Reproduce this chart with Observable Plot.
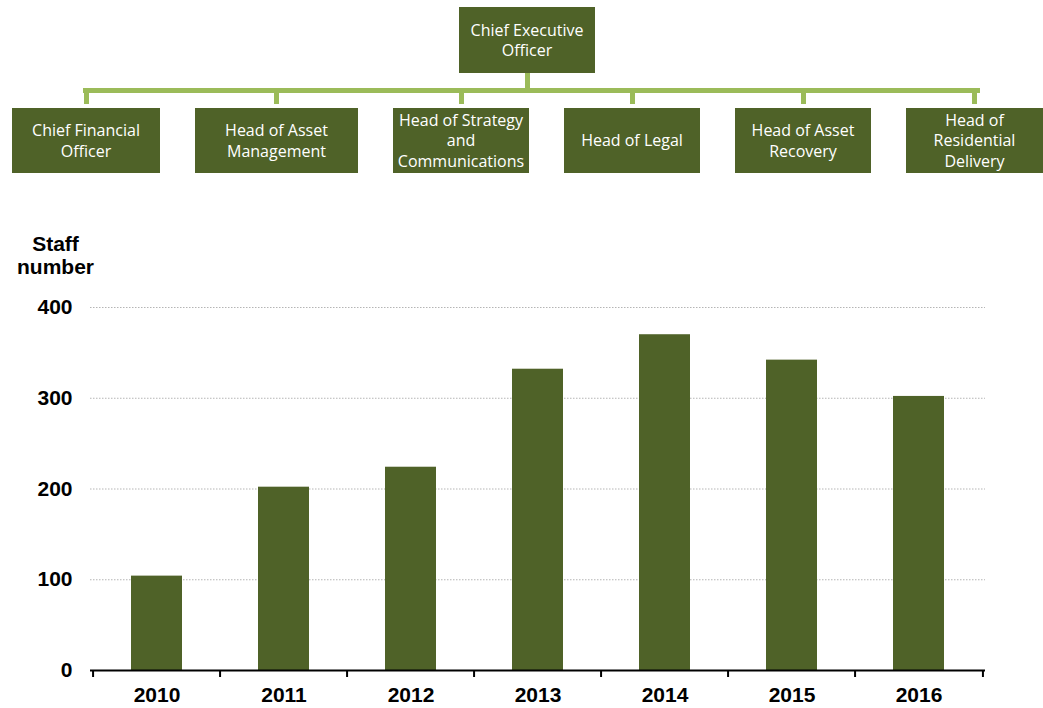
<!DOCTYPE html>
<html>
<head>
<meta charset="utf-8">
<script src="https://cdn.jsdelivr.net/npm/d3@7"></script>
<script src="https://cdn.jsdelivr.net/npm/@observablehq/plot@0.6"></script>
<style>
  html, body { margin: 0; padding: 0; background: #fff; }
  #page { position: relative; width: 1043px; height: 708px; overflow: hidden; }
  .box { position: absolute; background: #4F6228; color: #fff; display: flex; align-items: center; justify-content: center; text-align: center; font-family: "Open Sans", sans-serif; font-size: 16px; line-height: 20.5px; box-sizing: border-box; }
  .conn { position: absolute; background: #9BBB59; }
  #chart { position: absolute; left: 0; top: 220px; }
</style>
</head>
<body>
<div id="page"><div id="chart"></div></div>
<script>
// ---- data ----
const years = ["2010", "2011", "2012", "2013", "2014", "2015", "2016"];
const staff = [104, 202, 224, 332, 370, 342, 302];
const yTicks = [0, 100, 200, 300, 400];
const yTitle = "Staff\nnumber";
const ceoTitle = "Chief Executive<br>Officer";
const reportTitles = [
  "Chief Financial<br>Officer",
  "Head of Asset<br>Management",
  "Head of Strategy<br>and<br>Communications",
  "Head of Legal",
  "Head of Asset<br>Recovery",
  "Head of<br>Residential<br>Delivery"
];

// ---- org chart layout ----
const page = document.getElementById("page");
function addDiv(cls, l, t, w, h, html) {
  const d = document.createElement("div");
  d.className = cls;
  Object.assign(d.style, {left: l + "px", top: t + "px", width: w + "px", height: h + "px"});
  if (html) d.innerHTML = html;
  page.appendChild(d);
}
const boxLayout = [[12, 148], [195, 163], [393, 136], [564, 136], [735, 136], [906, 137]];
// connectors
addDiv("conn", 83, 88, 897, 5);
addDiv("conn", 525, 72, 5, 18);
boxLayout.forEach(([l, w]) => {
  const c = l + w / 2;
  addDiv("conn", Math.round(c - 2.5), 88, 5, 16);
});
addDiv("box", 459, 7, 136, 66, ceoTitle);
reportTitles.forEach((t, i) => addDiv("box", boxLayout[i][0], 108, boxLayout[i][1], 65, t));

// ---- bar chart ----
const data = years.map((y, i) => ({year: y, staff: staff[i]}));
const W = 1043, mL = 90, mR = 58;
const step = (W - mL - mR) / years.length;

const chart = Plot.plot({
  width: W,
  height: 488,
  marginLeft: mL,
  marginRight: mR,
  marginTop: 87,
  marginBottom: 38,
  style: {fontFamily: "'Liberation Sans', Arial, sans-serif", fontSize: "21px", fontWeight: "bold", color: "#000", background: "transparent", overflow: "visible"},
  x: {domain: years, paddingInner: 0.6, paddingOuter: 0.3, tickSize: 0, tickPadding: 17, label: null},
  y: {domain: [0, 400], ticks: yTicks, tickSize: 0, tickPadding: 18, label: null},
  marks: [
    Plot.ruleY(yTicks.filter(d => d > 0), {stroke: "#b5b5b5", strokeDasharray: "1.5,1.5"}),
    Plot.barY(data, {x: "year", y: "staff", fill: "#4F6228"}),
    Plot.ruleY([0], {stroke: "#000", strokeWidth: 2}),
    Plot.ruleX(years, {x: d => d, y1: 0, y2: -7.7, dx: -step / 2, stroke: "#000", strokeWidth: 2}),
    Plot.ruleX(years.slice(-1), {x: d => d, y1: 0, y2: -7.7, dx: step / 2, stroke: "#000", strokeWidth: 2}),
    Plot.text([yTitle], {text: d => d, frameAnchor: "top-left", dx: -35, dy: -34, lineAnchor: "bottom", textAnchor: "middle", lineHeight: 1.05, fontSize: 21, fontWeight: "bold", fill: "#000"})
  ]
});
document.getElementById("chart").appendChild(chart);
</script>
</body>
</html>
